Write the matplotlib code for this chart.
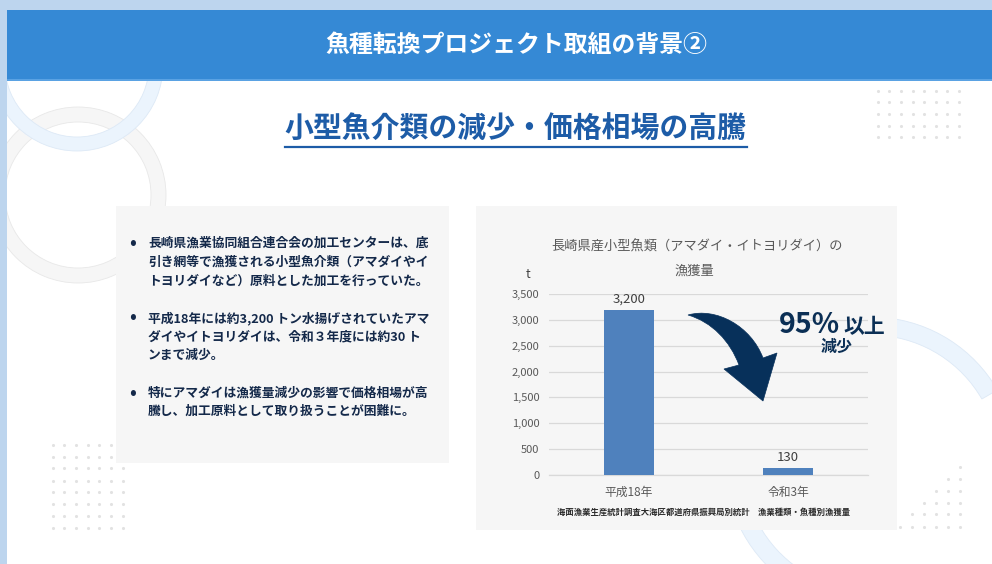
import matplotlib
matplotlib.use('Agg')
import matplotlib.pyplot as plt
from matplotlib.patches import Rectangle, Wedge, PathPatch
from matplotlib.path import Path
from matplotlib.ticker import FuncFormatter

plt.rcParams['font.family'] = ['Noto Sans CJK JP', 'DejaVu Sans']

# ---- data ----
categories = ['平成18年', '令和3年']
values = [3200, 130]
value_labels = ['3,200', '130']
yticks = [0, 500, 1000, 1500, 2000, 2500, 3000, 3500]

slide_title = '魚種転換プロジェクト取組の背景②'
subtitle = '小型魚介類の減少・価格相場の高騰'
chart_title_1 = '長崎県産小型魚類（アマダイ・イトヨリダイ）の'
chart_title_2 = '漁獲量'
unit_label = 't'
source_text = '海面漁業生産統計調査大海区都道府県振興局別統計　漁業種類・魚種別漁獲量'
callout_big = '95%'
callout_mid = '以上'
callout_small = '減少'
bullets = [
    ['長崎県漁業協同組合連合会の加工センターは、底',
     '引き網等で漁獲される小型魚介類（アマダイやイ',
     'トヨリダイなど）原料とした加工を行っていた。'],
    ['平成18年には約3,200 トン水揚げされていたアマ',
     'ダイやイトヨリダイは、令和３年度には約30 ト',
     'ンまで減少。'],
    ['特にアマダイは漁獲量減少の影響で価格相場が高',
     '騰し、加工原料として取り扱うことが困難に。'],
]

W, H = 992, 564
fig = plt.figure(figsize=(W / 100, H / 100), dpi=100)
fig.patch.set_facecolor('white')

# background axes in pixel coordinates
bg = fig.add_axes([0, 0, 1, 1], zorder=0)
bg.set_xlim(0, W)
bg.set_ylim(H, 0)
bg.axis('off')

# decorative rings
bg.add_patch(Wedge((78, 195), 88, 0, 360, width=15, facecolor='#F6F6F6',
                   edgecolor='#E8E8E8', lw=0.6, zorder=1))
bg.add_patch(Wedge((77, 65), 86, 0, 360, width=14, facecolor='#EBF4FD',
                   edgecolor='#DDE9F6', lw=0.6, zorder=2))
bg.add_patch(Wedge((871, 463), 146, 110, 330, width=18, facecolor='#EBF4FD',
                   edgecolor='#DDE9F6', lw=0.6, zorder=1))

# dot grids
dot_c = '#E2E2E2'
xs = [53, 64, 76, 88, 99, 111, 123]
ys = [445, 457, 468, 481, 492, 504, 516, 528]
bg.scatter([x for y in ys for x in xs], [y for y in ys for x in xs], s=5, color=dot_c, zorder=2, lw=0)
xs = [878, 889, 901, 913, 924, 936, 947, 959]
ys = [91, 102, 114, 126, 137]
bg.scatter([x for y in ys for x in xs], [y for y in ys for x in xs], s=5, color=dot_c, zorder=2, lw=0)
tx = [900, 912, 924, 936, 948, 960]
ty = [467, 479, 491, 503, 514, 527]
pts = [(tx[j], ty[i]) for i in range(6) for j in range(6) if j >= 5 - i]
bg.scatter([p[0] for p in pts], [p[1] for p in pts], s=5, color=dot_c, zorder=2, lw=0)

# borders and header bar
bg.add_patch(Rectangle((0, 0), 7, H, facecolor='#BDD5EE', edgecolor='none', zorder=5))
bg.add_patch(Rectangle((0, 0), W, 10, facecolor='#BDD5EE', edgecolor='none', zorder=5))
bg.add_patch(Rectangle((7, 10), W - 7, 70, facecolor='#3589D5', edgecolor='none', zorder=5))
bg.add_patch(Rectangle((7, 79), W - 7, 1.5, facecolor='#5AA2E3', edgecolor='none', zorder=5))
bg.text(516, 45, slide_title, color='white', fontsize=17.2, fontweight='bold',
        ha='center', va='center', zorder=6)

# subtitle with underline
bg.text(515, 129, subtitle, color='#1D5CA7', fontsize=20.8, fontweight='bold',
        ha='center', va='center', zorder=6)
bg.plot([285, 747], [147, 147], color='#1D5CA7', lw=1.6, zorder=6)

# left text box
bg.add_patch(Rectangle((116, 206), 333, 257, facecolor='#F6F6F6', edgecolor='none', zorder=3))
line_y = [[243, 262, 281], [318, 337, 355], [393, 411]]
for para, ys_ in zip(bullets, line_y):
    bg.text(133, ys_[0], '•', color='#14294A', fontsize=13, fontweight='bold',
            ha='center', va='center', zorder=6)
    for ln, yy in zip(para, ys_):
        bg.text(148, yy, ln, color='#14294A', fontsize=9.2, fontweight='bold',
                ha='left', va='center', zorder=6)

# chart box
bg.add_patch(Rectangle((476, 206), 421, 324, facecolor='#F6F6F6', edgecolor='none', zorder=3))
bg.text(697, 247, chart_title_1, color='#595959', fontsize=9.5, ha='center', va='center', zorder=6)
bg.text(694, 271, chart_title_2, color='#595959', fontsize=9.5, ha='center', va='center', zorder=6)
bg.text(528, 274, unit_label, color='#404040', fontsize=9, ha='center', va='center', zorder=6)
bg.text(704, 512, source_text, color='#2A2A2A', fontsize=6.0, fontweight='bold',
        ha='center', va='center', zorder=6)

# chart axes
ax = fig.add_axes([549 / W, 1 - 475 / H, 319 / W, 181 / H], zorder=2)
ax.set_facecolor('none')
x = list(range(len(categories)))
bars = ax.bar(x, values, width=0.3125, color='#4F81BD', zorder=3)
ax.bar_label(bars, labels=value_labels, padding=3, fontsize=9.5, color='#404040')
ax.set_xlim(-0.5, 1.5)
ax.set_ylim(0, 3500)
ax.set_yticks(yticks)
ax.yaxis.set_major_formatter(FuncFormatter(lambda v, p: f'{int(v):,}'))
ax.set_xticks(x)
ax.set_xticklabels(categories)
ax.tick_params(axis='y', length=0, pad=7, labelsize=8, labelcolor='#595959')
ax.tick_params(axis='x', length=0, pad=8, labelsize=8.5, labelcolor='#595959')
ax.yaxis.grid(True, color='#D9D9D9', lw=0.9, zorder=0)
ax.set_axisbelow(True)
for s in ['left', 'right', 'top']:
    ax.spines[s].set_visible(False)
ax.spines['bottom'].set_color('#D9D9D9')
ax.spines['bottom'].set_linewidth(0.9)

# overlay: arrow and callout
ov = fig.add_axes([0, 0, 1, 1], zorder=10)
ov.set_xlim(0, W)
ov.set_ylim(H, 0)
ov.axis('off')
ov.patch.set_alpha(0)
verts = [(688, 315), (716, 307), (751, 326), (763, 358),
         (777, 353), (763, 401), (724, 369), (739, 365),
         (730, 341), (712, 322), (688, 315), (688, 315)]
codes = [Path.MOVETO, Path.CURVE4, Path.CURVE4, Path.CURVE4,
         Path.LINETO, Path.LINETO, Path.LINETO, Path.LINETO,
         Path.CURVE4, Path.CURVE4, Path.CURVE4, Path.CLOSEPOLY]
ov.add_patch(PathPatch(Path(verts, codes), facecolor='#07305A', edgecolor='#07305A', lw=0.5))
ov.text(840, 333, callout_big, color='#0B2F55', fontsize=20.5, fontweight='bold',
        ha='right', va='baseline')
ov.text(843, 333, callout_mid, color='#0B2F55', fontsize=15, fontweight='bold',
        ha='left', va='baseline')
ov.text(837, 347, callout_small, color='#0B2F55', fontsize=11.5, fontweight='bold',
        ha='center', va='center')

fig.savefig('out.png', dpi=100)
